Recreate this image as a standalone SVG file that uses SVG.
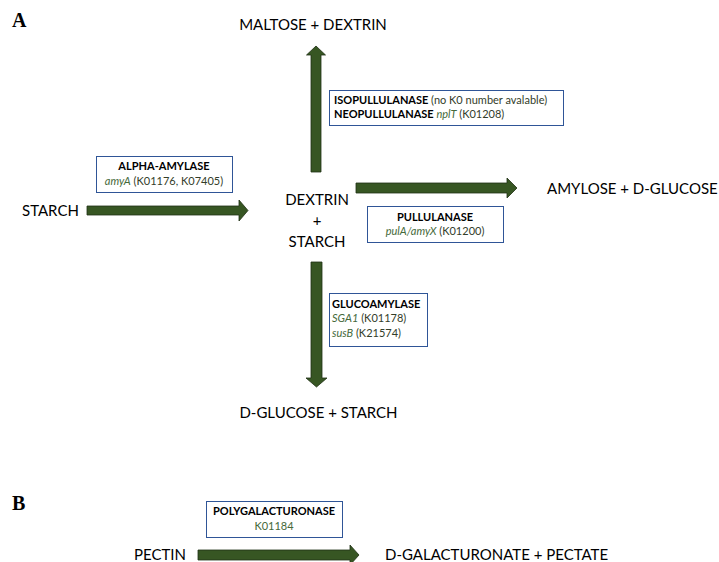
<svg xmlns="http://www.w3.org/2000/svg" width="719" height="562" viewBox="0 0 719 562">
<style>
.lbl{font-family:Lato,"Open Sans",sans-serif;font-size:15px;fill:#000}
.box{fill:#fff;stroke:#2F5597;stroke-width:1}
.bt{font-family:Lato,"Open Sans",sans-serif;font-size:11px;font-weight:bold;fill:#000}
.gt{font-family:Lato,"Open Sans",sans-serif;font-size:11px;fill:#333d2a;font-weight:normal}
.it{font-style:italic;fill:#45693a}
.arr{fill:#375623;stroke:#1f3014;stroke-width:0.8}
.panel{font-family:"Liberation Serif",serif;font-weight:bold;font-size:20px;fill:#000}
</style>
<rect width="719" height="562" fill="#fff"/>
<text class="panel" x="12" y="27">A</text>
<text class="panel" x="12" y="510">B</text>
<g id="connectors">
<path class="arr" d="M311,172 L311,55 L306.5,55 L316,46 L325.5,55 L321,55 L321,172 Z"/>
<path class="arr" d="M87,206 L239,206 L239,200 L248,210.5 L239,221 L239,215 L87,215 Z"/>
<path class="arr" d="M356,183 L507,183 L507,178 L517,188 L507,198 L507,193 L356,193 Z"/>
<path class="arr" d="M311,262 L322,262 L322,378 L327,378 L316.5,387 L306,378 L311,378 Z"/>
<path class="arr" d="M198,550 L350,550 L350,545 L359,555 L350,565 L350,560 L198,560 Z"/>
</g>
<g id="maltose"><text class="lbl" x="313" y="30" text-anchor="middle">MALTOSE + DEXTRIN</text></g>
<g id="starch"><text class="lbl" x="22" y="216">STARCH</text></g>
<g id="dextrin-starch">
<text class="lbl" x="317" y="205" text-anchor="middle">DEXTRIN</text>
<text class="lbl" x="317" y="226" text-anchor="middle">+</text>
<text class="lbl" x="317" y="247" text-anchor="middle">STARCH</text>
</g>
<g id="amylose"><text class="lbl" x="547" y="194">AMYLOSE + D-GLUCOSE</text></g>
<g id="dglucose"><text class="lbl" x="318.5" y="418" text-anchor="middle">D-GLUCOSE + STARCH</text></g>
<g id="pectin"><text class="lbl" x="134" y="560">PECTIN</text></g>
<g id="galacturonate"><text class="lbl" x="385" y="560">D-GALACTURONATE + PECTATE</text></g>
<g id="isopullulanase">
<rect class="box" x="329.5" y="90.5" width="234" height="35"/>
<text class="bt" x="334" y="104">ISOPULLULANASE <tspan class="gt">(no K0 number avalable)</tspan></text>
<text class="bt" x="334" y="118">NEOPULLULANASE <tspan class="gt it">nplT</tspan><tspan class="gt"> (K01208)</tspan></text>
</g>
<g id="alpha-amylase">
<rect class="box" x="96.5" y="156.5" width="136" height="36"/>
<text class="bt" x="164" y="170" text-anchor="middle">ALPHA-AMYLASE</text>
<text class="gt" x="164" y="185" text-anchor="middle"><tspan class="it">amyA</tspan> (K01176, K07405)</text>
</g>
<g id="pullulanase">
<rect class="box" x="367.5" y="206.5" width="136" height="36"/>
<text class="bt" x="435" y="221" text-anchor="middle">PULLULANASE</text>
<text class="gt" x="435" y="235" text-anchor="middle"><tspan class="it">pulA/amyX</tspan> (K01200)</text>
</g>
<g id="glucoamylase">
<rect class="box" x="329.5" y="293.5" width="98" height="53"/>
<text class="bt" x="332" y="308">GLUCOAMYLASE</text>
<text class="gt" x="332" y="322"><tspan class="it">SGA1</tspan> (K01178)</text>
<text class="gt" x="332" y="337"><tspan class="it">susB</tspan> (K21574)</text>
</g>
<g id="polygalacturonase">
<rect class="box" x="206.5" y="501.5" width="136" height="36"/>
<text class="bt" x="274" y="515" text-anchor="middle">POLYGALACTURONASE</text>
<text class="gt" x="274" y="530" text-anchor="middle" style="fill:#45693a">K01184</text>
</g>
</svg>
